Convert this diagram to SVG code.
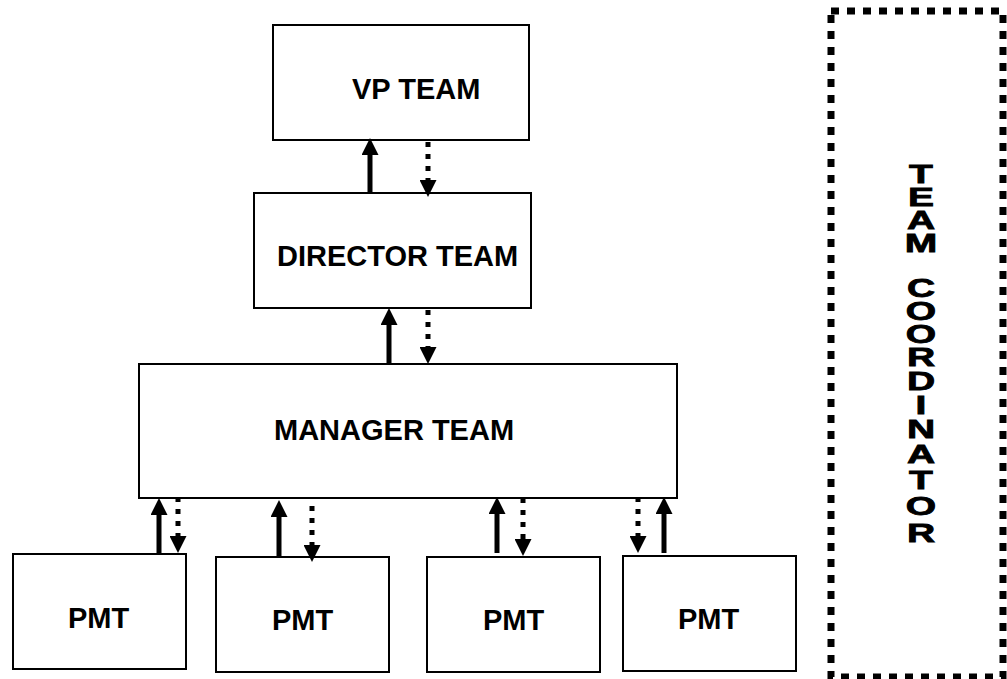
<svg xmlns="http://www.w3.org/2000/svg" width="1007" height="679" viewBox="0 0 1007 679">
<style>
.box{fill:#fff;stroke:#000;stroke-width:2}
.lbl{font-family:"Liberation Sans",Arial,sans-serif;font-weight:bold;font-size:29px;fill:#000}
.solid{stroke:#000;stroke-width:5;fill:none}
.dot{stroke:#000;stroke-width:5;stroke-dasharray:5 7;fill:none}
.vt{font-family:"Liberation Sans",Arial,sans-serif;font-weight:bold;font-size:26px;fill:#000;stroke:#000;stroke-width:0.8;text-anchor:middle}
</style>
<defs>
<marker id="ah" viewBox="0 0 17 17" refX="0" refY="8.5" markerWidth="17" markerHeight="17" markerUnits="userSpaceOnUse" orient="auto">
<path d="M0,0 L17,8.5 L0,17 z" fill="#000"/>
</marker>
</defs>
<rect width="1007" height="679" fill="#fff"/>
<g id="vp"><rect class="box" x="273" y="25" width="256" height="115"/><text class="lbl" x="352" y="99">VP TEAM</text></g>
<g id="director"><rect class="box" x="254" y="193" width="277" height="115"/><text class="lbl" x="277" y="266">DIRECTOR TEAM</text></g>
<g id="manager"><rect class="box" x="139" y="364" width="538" height="134"/><text class="lbl" x="274" y="440">MANAGER TEAM</text></g>
<g id="pmt1"><rect class="box" x="13" y="554" width="173" height="115"/><text class="lbl" x="68" y="628">PMT</text></g>
<g id="pmt2"><rect class="box" x="216" y="557" width="173" height="115"/><text class="lbl" x="272" y="630">PMT</text></g>
<g id="pmt3"><rect class="box" x="427" y="557" width="173" height="115"/><text class="lbl" x="483" y="630">PMT</text></g>
<g id="pmt4"><rect class="box" x="623" y="556" width="173" height="115"/><text class="lbl" x="678" y="629">PMT</text></g>
<g id="coordinator">
<rect x="831" y="11" width="172" height="666" fill="none" stroke="#000" stroke-width="7" stroke-dasharray="8 8"/>
<g transform="translate(921,0) scale(1.5,1)">
<text class="vt" x="0" y="183">T</text>
<text class="vt" x="0" y="206">E</text>
<text class="vt" x="0" y="229">A</text>
<text class="vt" x="0" y="252">M</text>
<text class="vt" x="0" y="297">C</text>
<text class="vt" x="0" y="320">O</text>
<text class="vt" x="0" y="343">O</text>
<text class="vt" x="0" y="366">R</text>
<text class="vt" x="0" y="390">D</text>
<text class="vt" x="0" y="414">I</text>
<text class="vt" x="0" y="438">N</text>
<text class="vt" x="0" y="463">A</text>
<text class="vt" x="0" y="489">T</text>
<text class="vt" x="0" y="515">O</text>
<text class="vt" x="0" y="542">R</text>
</g>
</g>
<g id="connectors">
<line class="solid" x1="370" y1="193" x2="370" y2="155" marker-end="url(#ah)"/>
<line class="dot" x1="428" y1="142" x2="428" y2="180" marker-end="url(#ah)"/>
<line class="solid" x1="389" y1="364" x2="389" y2="325" marker-end="url(#ah)"/>
<line class="dot" x1="428" y1="310" x2="428" y2="347" marker-end="url(#ah)"/>
<line class="solid" x1="159" y1="554" x2="159" y2="515" marker-end="url(#ah)"/>
<line class="dot" x1="178" y1="497" x2="178" y2="536" marker-end="url(#ah)"/>
<line class="solid" x1="279" y1="557" x2="279" y2="517" marker-end="url(#ah)"/>
<line class="dot" x1="312" y1="506" x2="312" y2="545" marker-end="url(#ah)"/>
<line class="solid" x1="497" y1="553" x2="497" y2="514" marker-end="url(#ah)"/>
<line class="dot" x1="523" y1="498" x2="523" y2="539" marker-end="url(#ah)"/>
<line class="dot" x1="638" y1="497" x2="638" y2="536" marker-end="url(#ah)"/>
<line class="solid" x1="664" y1="553" x2="664" y2="514" marker-end="url(#ah)"/>
</g>
</svg>
